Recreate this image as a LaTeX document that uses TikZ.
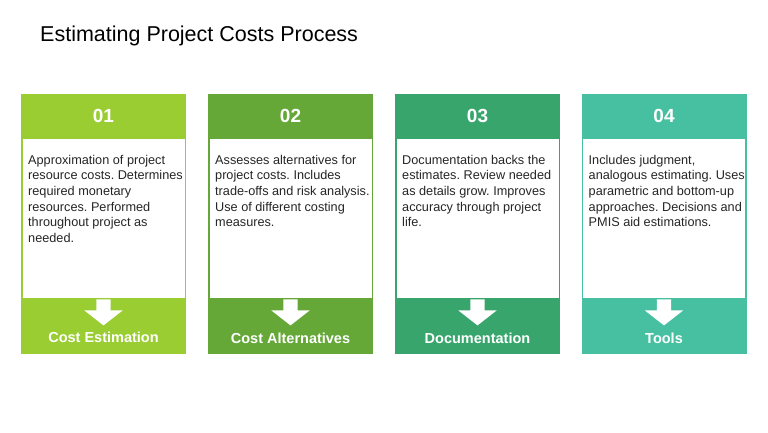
\documentclass[tikz,border=0pt]{standalone}
\usepackage{fontspec}
\setmainfont{Liberation Sans}
\usetikzlibrary{positioning,shapes.arrows}

\definecolor{stepA}{RGB}{154,205,50}
\definecolor{stepB}{RGB}{101,168,56}
\definecolor{stepC}{RGB}{56,166,108}
\definecolor{stepD}{RGB}{70,192,160}
\definecolor{bodygrey}{RGB}{38,38,38}

\begin{document}
\frenchspacing
\begin{tikzpicture}[x=1pt,y=1pt]

    % Define some common styles
    \tikzset{
        cardhead/.style={minimum width=165pt, minimum height=44pt, inner sep=0pt, text=white, font=\bfseries\fontsize{19}{21}\selectfont},
        cardbody/.style={fill=white, line width=1.5pt, minimum width=163.5pt, minimum height=161pt, inner sep=0pt},
        cardfoot/.style={minimum width=165pt, minimum height=55pt, inner sep=0pt},
        bodytext/.style={anchor=north west, inner sep=0pt, align=left, text=bodygrey, font=\fontsize{12.7}{15.6}\selectfont},
        footlabel/.style={inner sep=0pt, text=white, font=\bfseries\fontsize{14.5}{16}\selectfont},
        downarrow/.style={single arrow, fill=white, shape border rotate=270, anchor=tail, inner sep=7pt, minimum height=26pt, single arrow head extend=12pt, single arrow tip angle=104}
    }

    % Page frame and title
    \useasboundingbox[fill=white] (0,0) rectangle (768,432);
    \node[anchor=west, inner sep=0pt, font=\fontsize{21.5}{24}\selectfont] (title) at (40,396) {Estimating Project Costs Process};

    % Card 01
    \node[cardhead, fill=stepA] (head1) at (103.5,316) {01};
    \node[cardbody, draw=stepA, below=-0.75pt of head1] (body1) {};
    \node[cardfoot, fill=stepA, below=-0.75pt of body1] (foot1) {};
    \node[bodytext, below right=17.5pt and 7pt of body1.north west] (text1) {Approximation of project\\resource costs. Determines\\required monetary\\resources. Performed\\throughout project as\\needed.};
    \node[downarrow] (arrow1) at (foot1.north) {};
    \node[footlabel, above=17pt of foot1.south, anchor=center] (label1) {Cost Estimation};

    % Card 02
    \node[cardhead, fill=stepB] (head2) at (290.5,316) {02};
    \node[cardbody, draw=stepB, below=-0.75pt of head2] (body2) {};
    \node[cardfoot, fill=stepB, below=-0.75pt of body2] (foot2) {};
    \node[bodytext, below right=17.5pt and 7pt of body2.north west] (text2) {Assesses alternatives for\\project costs. Includes\\trade-offs and risk analysis.\\Use of different costing\\measures.};
    \node[downarrow] (arrow2) at (foot2.north) {};
    \node[footlabel, above=16pt of foot2.south, anchor=center] (label2) {Cost Alternatives};

    % Card 03
    \node[cardhead, fill=stepC] (head3) at (477.5,316) {03};
    \node[cardbody, draw=stepC, below=-0.75pt of head3] (body3) {};
    \node[cardfoot, fill=stepC, below=-0.75pt of body3] (foot3) {};
    \node[bodytext, below right=17.5pt and 7pt of body3.north west] (text3) {Documentation backs the\\estimates. Review needed\\as details grow. Improves\\accuracy through project\\life.};
    \node[downarrow] (arrow3) at (foot3.north) {};
    \node[footlabel, above=16pt of foot3.south, anchor=center] (label3) {Documentation};

    % Card 04
    \node[cardhead, fill=stepD] (head4) at (664,316) {04};
    \node[cardbody, draw=stepD, below=-0.75pt of head4] (body4) {};
    \node[cardfoot, fill=stepD, below=-0.75pt of body4] (foot4) {};
    \node[bodytext, below right=17.5pt and 7pt of body4.north west] (text4) {Includes judgment,\\analogous estimating. Uses\\parametric and bottom-up\\approaches. Decisions and\\PMIS aid estimations.};
    \node[downarrow] (arrow4) at (foot4.north) {};
    \node[footlabel, above=16pt of foot4.south, anchor=center] (label4) {Tools};

\end{tikzpicture}
\end{document}
